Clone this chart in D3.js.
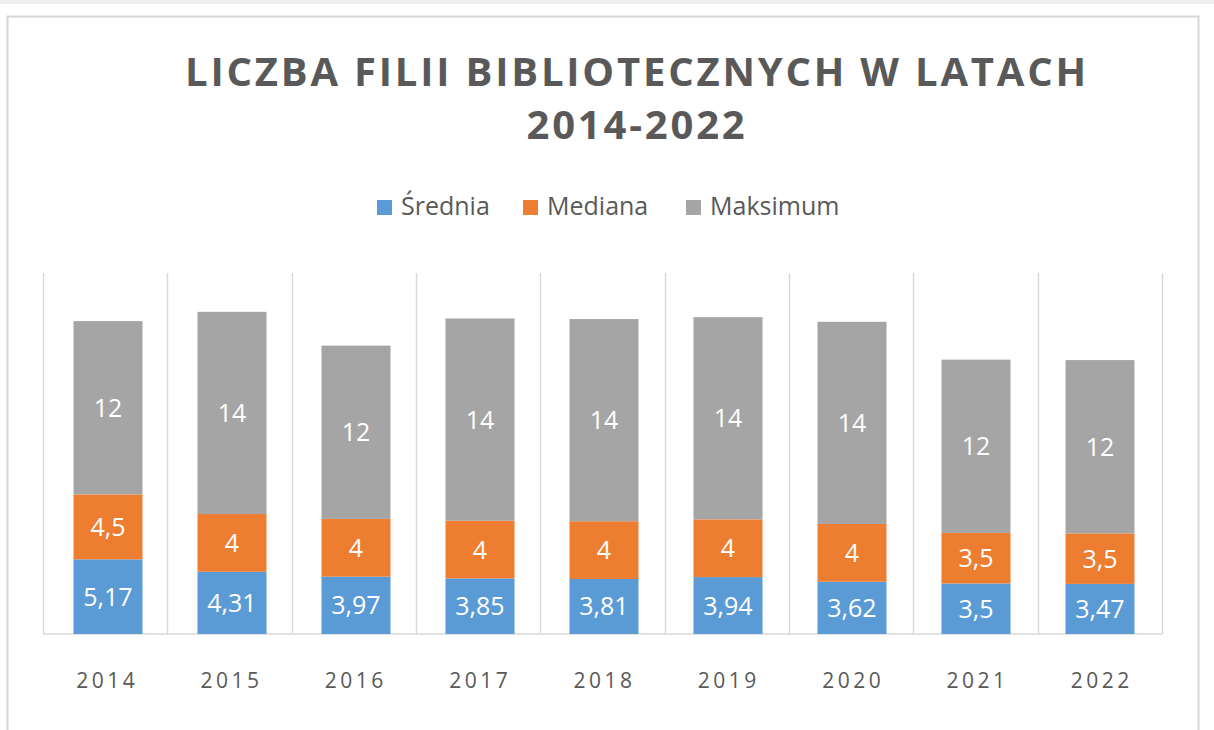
<!DOCTYPE html>
<html lang="pl">
  <head>
    <meta charset="utf-8">
    <title>Liczba filii bibliotecznych</title>
    <script src="https://d3js.org/d3.v7.min.js"></script>
    <style>
      body { margin: 0; background: #fff; }
      svg { display: block; }
    </style>
  </head>
  <body>
    <script type="text/javascript">
    // dane
    var years = ["2014", "2015", "2016", "2017", "2018", "2019", "2020", "2021", "2022"];
    var seriesNames = ["Średnia", "Mediana", "Maksimum"];
    var srednia = [5.17, 4.31, 3.97, 3.85, 3.81, 3.94, 3.62, 3.5, 3.47];
    var mediana = [4.5, 4, 4, 4, 4, 4, 4, 3.5, 3.5];
    var maksimum = [12, 14, 12, 14, 14, 14, 14, 12, 12];
    var colors = ["#5b9bd5", "#ed7d31", "#a5a5a5"];

    var w = 1214, h = 730;
    var font = "Open Sans, sans-serif";
    var textColor = "#595959";

    var svg = d3.select("body").append("svg")
                .attr("width", w)
                .attr("height", h);

    // tlo strony i ramka wykresu
    svg.append("rect").attr("x", 0).attr("y", 0).attr("width", w).attr("height", 4).attr("fill", "#efefef");
    svg.append("rect")
       .attr("x", 7.5).attr("y", 16.5)
       .attr("width", 1191).attr("height", 740)
       .attr("fill", "#fff")
       .attr("stroke", "#d6d6d6")
       .attr("stroke-width", 2);

    // tabela do stosu
    var table = years.map(function(y, i) {
      return { year: y, "Średnia": srednia[i], "Mediana": mediana[i], "Maksimum": maksimum[i] };
    });
    var stack = d3.stack().keys(seriesNames)(table);

    var x = d3.scaleBand()
              .domain(years)
              .range([43, 1162]);
    // slupki lekko przesuniete jak w oryginale
    var xb = d3.scaleBand()
               .domain(years)
               .range([46, 1162]);
    var barW = 69;

    var y = d3.scaleLinear()
              .domain([0, 25])
              .range([634, 273]);

    // pionowe linie siatki
    var grid = d3.range(years.length + 1).map(function(i) { return 43 + i * x.bandwidth(); });
    svg.selectAll("line.grid")
       .data(grid)
       .enter()
       .append("line")
       .attr("class", "grid")
       .attr("x1", function(d) { return Math.round(d) + 0.5; })
       .attr("x2", function(d) { return Math.round(d) + 0.5; })
       .attr("y1", y(25))
       .attr("y2", y(0))
       .attr("stroke", "#d9d9d9")
       .attr("stroke-width", 1.5);

    // os X
    var xAxis = d3.axisBottom(x).tickSize(0).tickPadding(0);
    var gx = svg.append("g")
       .attr("transform", "translate(0," + y(0) + ")")
       .call(xAxis);
    gx.select(".domain").attr("stroke", "#d9d9d9").attr("stroke-width", 1.5).attr("d", "M43,0H1162");
    gx.selectAll("text")
      .attr("dy", 0)
      .attr("y", 54)
      .attr("dx", 2)
      .attr("font-family", font)
      .attr("font-size", 21)
      .attr("letter-spacing", 3.5)
      .attr("fill", textColor);

    // slupki
    var layers = svg.selectAll("g.layer")
       .data(stack)
       .enter()
       .append("g")
       .attr("class", "layer")
       .attr("fill", function(d, i) { return colors[i]; });

    layers.selectAll("rect")
       .data(function(d) { return d; })
       .enter()
       .append("rect")
       .attr("x", function(d) { return xb(d.data.year) + (xb.bandwidth() - barW) / 2; })
       .attr("y", function(d) { return y(d[1]); })
       .attr("width", barW)
       .attr("height", function(d) { return y(d[0]) - y(d[1]); });

    // etykiety danych
    layers.selectAll("text")
       .data(function(d) { return d.map(function(p) { return { p: p, key: d.key }; }); })
       .enter()
       .append("text")
       .attr("x", function(d) { return xb(d.p.data.year) + xb.bandwidth() / 2; })
       .attr("y", function(d) { return (y(d.p[0]) + y(d.p[1])) / 2 + 9; })
       .attr("text-anchor", "middle")
       .attr("font-family", font)
       .attr("font-size", 25)
       .attr("fill", "#fff")
       .text(function(d) { return String(d.p.data[d.key]).replace(".", ","); });

    // tytul
    var title = ["LICZBA FILII BIBLIOTECZNYCH W LATACH", "2014-2022"];
    svg.selectAll("text.title")
       .data(title)
       .enter()
       .append("text")
       .attr("class", "title")
       .attr("x", 637)
       .attr("y", function(d, i) { return 86 + i * 53; })
       .attr("text-anchor", "middle")
       .attr("font-family", font)
       .attr("font-weight", "bold")
       .attr("font-size", 40)
       .attr("letter-spacing", 2.8)
       .attr("fill", textColor)
       .text(function(d) { return d; });

    // legenda
    var legendX = [377, 523, 686];
    var lg = svg.selectAll("g.legend")
       .data(seriesNames)
       .enter()
       .append("g")
       .attr("class", "legend")
       .attr("transform", function(d, i) { return "translate(" + legendX[i] + ",200)"; });
    lg.append("rect")
      .attr("width", 15).attr("height", 15)
      .attr("fill", function(d, i) { return colors[i]; });
    lg.append("text")
      .attr("x", 24)
      .attr("y", 15)
      .attr("font-family", font)
      .attr("font-size", 25)
      .attr("fill", textColor)
      .text(function(d) { return d; });
    </script>
  </body>
</html>
